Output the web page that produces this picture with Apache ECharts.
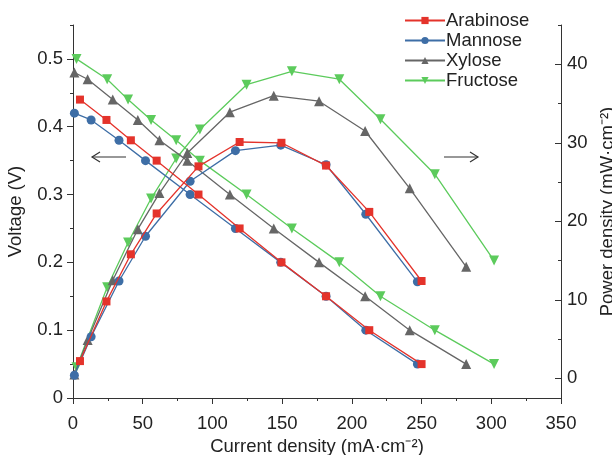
<!DOCTYPE html>
<html>
<head>
<meta charset="utf-8">
<script src="https://cdn.jsdelivr.net/npm/echarts@6/dist/echarts.min.js"></script>
<style>
html, body { margin: 0; padding: 0; background: #fff; }
#chart { width: 612px; height: 455px; }
</style>
</head>
<body>
<div id="chart"></div>
<script>
// current density (mA/cm2) for each sugar
const araI = [5, 24, 41.5, 60, 90, 119.5, 149.5, 181.5, 212.5, 250];
const manI = [1, 13, 33, 52, 84, 116.5, 149, 181.5, 210, 247];
const xylI = [1, 10.5, 28.5, 46.5, 62, 82, 112.5, 144, 176.5, 209.5, 241.5, 282];
const fruI = [2.5, 24.5, 39.5, 56, 74, 91, 124.5, 157, 191, 220.5, 259.5, 302];

// voltage (V)
const araV = [0.44, 0.41, 0.38, 0.35, 0.30, 0.25, 0.20, 0.15, 0.10, 0.05];
const manV = [0.42, 0.41, 0.38, 0.35, 0.30, 0.25, 0.20, 0.15, 0.10, 0.05];
const xylV = [0.48, 0.47, 0.44, 0.41, 0.38, 0.35, 0.30, 0.25, 0.20, 0.15, 0.10, 0.05];
const fruV = [0.50, 0.47, 0.44, 0.41, 0.38, 0.35, 0.30, 0.25, 0.20, 0.15, 0.10, 0.05];

// power density (mW/cm2)
const araP = [2.2, 9.8, 15.8, 21.0, 27.0, 30.1, 30.0, 27.1, 21.2, 12.4];
const manP = [0.4, 5.3, 12.4, 18.1, 25.1, 29.0, 29.7, 27.2, 20.9, 12.3];
const xylP = [0.5, 4.9, 12.5, 19.0, 23.6, 28.7, 33.9, 36.0, 35.3, 31.5, 24.2, 14.2];
const fruP = [1.4, 11.6, 17.3, 22.9, 28.0, 31.7, 37.4, 39.1, 38.1, 33.0, 26.0, 15.0];

const names = ['Arabinose', 'Mannose', 'Xylose', 'Fructose'];
const colors = ['#e4332b', '#3e6ea6', '#666666', '#5ccb5c'];
const symbols = ['rect', 'circle', 'triangle', 'path://M0,0L10,0L5,9Z'];
const sizes = [8, 9, 10, 10];

const vTicks = [0, 0.1, 0.2, 0.3, 0.4, 0.5];
const vMinor = [0.05, 0.15, 0.25, 0.35, 0.45, 0.55];
const pTicks = [0, 10, 20, 30, 40];
const pMinor = [5, 15, 25, 35, 45];

const FONT = 'Liberation Sans';
const FS = 18.5;
const axisColor = '#333';

function pairs(xs, ys) {
  return xs.map((x, i) => [x, ys[i]]);
}

const dataI = [araI, manI, xylI, fruI];
const dataV = [araV, manV, xylV, fruV];
const dataP = [araP, manP, xylP, fruP];

let series = [];
for (let k = 0; k < 4; k++) {
  const base = {
    name: names[k],
    type: 'line',
    symbol: symbols[k],
    symbolSize: sizes[k],
    color: colors[k],
    lineStyle: { width: 1.3, color: colors[k] },
    itemStyle: { color: colors[k] },
    animation: false,
    z: 10 - k
  };
  series.push(Object.assign({}, base, { yAxisIndex: 0, data: pairs(dataI[k], dataV[k]) }));
  series.push(Object.assign({}, base, { yAxisIndex: 1, data: pairs(dataI[k], dataP[k]) }));
}

const mycharts = echarts.init(document.getElementById('chart'));
mycharts.setOption({
  animation: false,
  textStyle: { fontFamily: FONT },
  grid: { left: 73, right: 51, top: 25, bottom: 57, containLabel: false, outerBoundsMode: 'none' },
  legend: {
    data: names,
    left: 399,
    top: 6,
    orient: 'vertical',
    itemWidth: 40,
    itemHeight: 9,
    itemGap: 1,
    textStyle: { fontSize: FS, color: '#222', fontFamily: FONT, padding: [0, 0, 0, -4] }
  },
  xAxis: {
    type: 'value',
    min: 0,
    max: 350,
    interval: 50,
    name: 'Current density (mA·cm⁻²)',
    nameLocation: 'middle',
    nameGap: 36,
    nameTextStyle: { fontSize: FS, color: '#222' },
    axisLine: { lineStyle: { color: axisColor, width: 1 } },
    axisTick: { show: true, length: 6, lineStyle: { color: axisColor } },
    minorTick: { show: true, splitNumber: 2, length: 3, lineStyle: { color: axisColor } },
    axisLabel: { fontSize: FS, color: '#222', margin: 16 },
    splitLine: { show: false }
  },
  yAxis: [
    {
      type: 'value',
      position: 'left',
      min: 0,
      max: 0.55,
      name: 'Voltage (V)',
      nameLocation: 'middle',
      nameGap: 48,
      nameTextStyle: { fontSize: FS, color: '#222' },
      axisLine: { show: true, lineStyle: { color: axisColor } },
      axisTick: { show: true, length: 6, customValues: vTicks, lineStyle: { color: axisColor } },
      axisLabel: { fontSize: FS, color: '#222', margin: 10, customValues: vTicks },
      splitLine: { show: false }
    },
    {
      type: 'value',
      position: 'right',
      min: -2.5,
      max: 45,
      name: 'Power density (mW·cm⁻²)',
      nameLocation: 'middle',
      nameGap: 27,
      nameTextStyle: { fontSize: FS, color: '#222' },
      axisLine: { show: true, lineStyle: { color: axisColor } },
      axisTick: { show: true, inside: true, length: 6, customValues: pTicks, lineStyle: { color: axisColor } },
      axisLabel: { fontSize: FS, color: '#222', margin: 6, customValues: pTicks },
      splitLine: { show: false }
    },
    {
      // minor ticks on the voltage axis
      type: 'value',
      position: 'left',
      min: 0,
      max: 0.55,
      axisLine: { show: false },
      axisTick: { show: true, length: 3, customValues: vMinor, lineStyle: { color: axisColor } },
      axisLabel: { show: false },
      splitLine: { show: false }
    },
    {
      // minor ticks on the power axis
      type: 'value',
      position: 'right',
      min: -2.5,
      max: 45,
      axisLine: { show: false },
      axisTick: { show: true, inside: true, length: 3, customValues: pMinor, lineStyle: { color: axisColor } },
      axisLabel: { show: false },
      splitLine: { show: false }
    }
  ],
  graphic: [
    { type: 'line', shape: { x1: 92, y1: 157, x2: 126, y2: 157 }, style: { stroke: '#333', lineWidth: 1.2 } },
    { type: 'polyline', shape: { points: [[100, 152], [92, 157], [100, 162]] }, style: { stroke: '#333', lineWidth: 1.2, fill: null } },
    { type: 'line', shape: { x1: 444, y1: 157, x2: 478, y2: 157 }, style: { stroke: '#333', lineWidth: 1.2 } },
    { type: 'polyline', shape: { points: [[470, 152], [478, 157], [470, 162]] }, style: { stroke: '#333', lineWidth: 1.2, fill: null } }
  ],
  series: series
});
</script>
</body>
</html>
